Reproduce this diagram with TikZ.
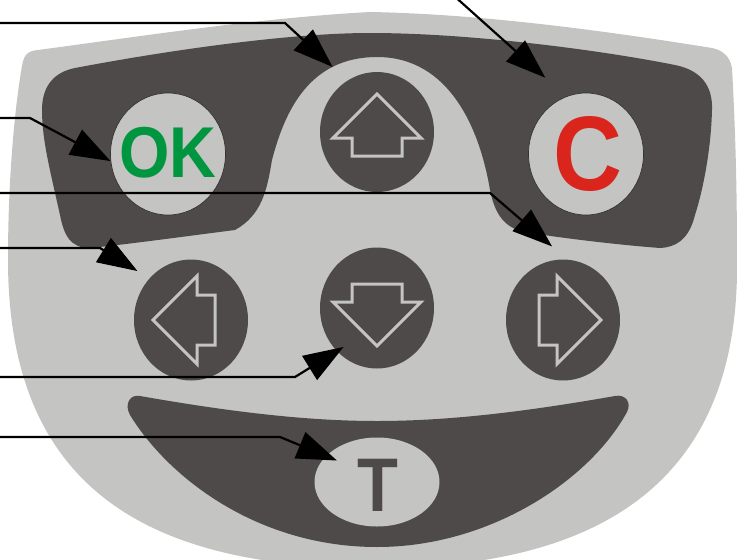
\documentclass[tikz,border=0pt]{standalone}
\usepackage{fontspec}
\setmainfont{Liberation Sans}
\usepackage{xcolor}
\usetikzlibrary{arrows.meta,shapes.geometric}

\definecolor{padgray}{RGB}{196,196,194}
\definecolor{keydark}{RGB}{78,74,73}
\definecolor{okgreen}{RGB}{0,150,64}
\definecolor{cred}{RGB}{218,37,29}

% outlined arrow on a key: centre, direction
\newcommand{\keyarrow}[2]{%
	\draw[keyline,shift={(#1.center)},rotate=#2] (38,0) -- (-6,44) -- (-6,25) -- (-24,25) -- (-24,-25) -- (-6,-25) -- (-6,-44) -- cycle;}

\begin{document}
\begin{tikzpicture}[x=1pt,y=-1pt,
		darkkey/.style={ellipse,fill=keydark,inner sep=0pt,minimum width=114pt,minimum height=121pt},
		lightkey/.style={ellipse,fill=padgray,draw=black!80,line width=0.7pt,inner sep=0pt,minimum width=115pt,minimum height=122pt},
		keyline/.style={draw=padgray,line width=3pt},
		keyfont/.style={inner sep=0pt,font=\bfseries\fontsize{#1}{#1}\selectfont},
		callout/.style={draw=black,line width=2.2pt,-{Triangle[length=40pt,width=28pt]}}]
			\useasboundingbox (0,0) rectangle (737,560);
			\clip (0,0) rectangle (737,560);
			% body
			\fill[padgray] (38,50) .. controls (150,35) and (260,18) .. (370,12)
				.. controls (480,14) and (600,30) .. (712,48)
				.. controls (722,50) and (730,56) .. (732,68)
				.. controls (736,140) and (737,200) .. (737,260)
				.. controls (740,490) and (590,568) .. (375,568)
				.. controls (150,568) and (8,490) .. (8,260)
				.. controls (8,170) and (16,100) .. (22,66)
				.. controls (24,54) and (28,51) .. (38,50) -- cycle;
			% upper panel
			\fill[keydark] (90,248) .. controls (70,248) and (64,235) .. (60,215)
				.. controls (50,170) and (42,140) .. (42,110)
				.. controls (42,85) and (55,72) .. (75,68)
				.. controls (170,50) and (290,33) .. (370,33)
				.. controls (470,33) and (600,50) .. (675,65)
				.. controls (700,70) and (713,85) .. (712,110)
				.. controls (711,150) and (703,190) .. (695,215)
				.. controls (690,235) and (680,247) .. (660,248)
				.. controls (620,245) and (560,238) .. (525,232)
				.. controls (505,228) and (495,215) .. (490,190)
				.. controls (480,130) and (450,57) .. (377,57)
				.. controls (310,57) and (285,110) .. (272,160)
				.. controls (267,190) and (262,215) .. (235,230)
				.. controls (180,237) and (130,244) .. (90,248) -- cycle;
			% lower panel
			\fill[keydark] (140,396) .. controls (220,410) and (300,421) .. (377,421)
				.. controls (455,421) and (535,410) .. (615,396)
				.. controls (625,394) and (632,402) .. (627,412)
				.. controls (590,480) and (490,547) .. (377,547)
				.. controls (260,547) and (170,480) .. (130,415)
				.. controls (124,404) and (130,394) .. (140,396) -- cycle;
			% keys
			\node[lightkey] (ok) at (168,154) {};
			\node[darkkey,minimum height=120pt] (up) at (377,132) {};
			\node[lightkey] (cbtn) at (586,154) {};
			\node[darkkey] (left) at (191,320) {};
			\node[darkkey] (down) at (377,308) {};
			\node[darkkey] (right) at (563,320) {};
			\node[lightkey,draw=none,minimum width=125pt,minimum height=89pt] (tbtn) at (377,482) {};
			\keyarrow{up}{90}
			\keyarrow{left}{180}
			\keyarrow{down}{270}
			\keyarrow{right}{0}
			\node[keyfont=72,text=okgreen] (okText) at (168,153) {\scalebox{0.9}[1]{OK}};
			\node[keyfont=106,text=cred] (cText) at (588,154) {\scalebox{0.9}[1]{C}};
			\node[keyfont=76,text=keydark] (tText) at (378,485) {\scalebox{0.88}[1]{T}};
			% callouts
			\coordinate (tagUp) at (0,23);
			\coordinate (tagC) at (452,-6);
			\coordinate (tagOK) at (0,118);
			\coordinate (tagRight) at (0,193);
			\coordinate (tagLeft) at (0,248);
			\coordinate (tagDown) at (0,377);
			\coordinate (tagT) at (0,437);
			\draw[callout,shorten >=20pt] (tagUp) -- ++(285,0) -- (up.120);
			\draw[callout,shorten >=28pt] (tagC) -- (cbtn.109);
			\draw[callout] (tagOK) -- ++(30,0) -- (ok.187);
			\draw[callout,shorten >=20pt] (tagRight) -- ++(490,0) -- (right.86);
			\draw[callout,shorten >=14pt] (tagLeft) -- ++(100,0) -- (left.135);
			\draw[callout,shorten >=-8pt] (tagDown) -- ++(295,0) -- (down.227);
			\draw[callout,shorten >=-12pt] (tagT) -- ++(280,0) -- (tbtn.153);
		\end{tikzpicture}
\end{document}
